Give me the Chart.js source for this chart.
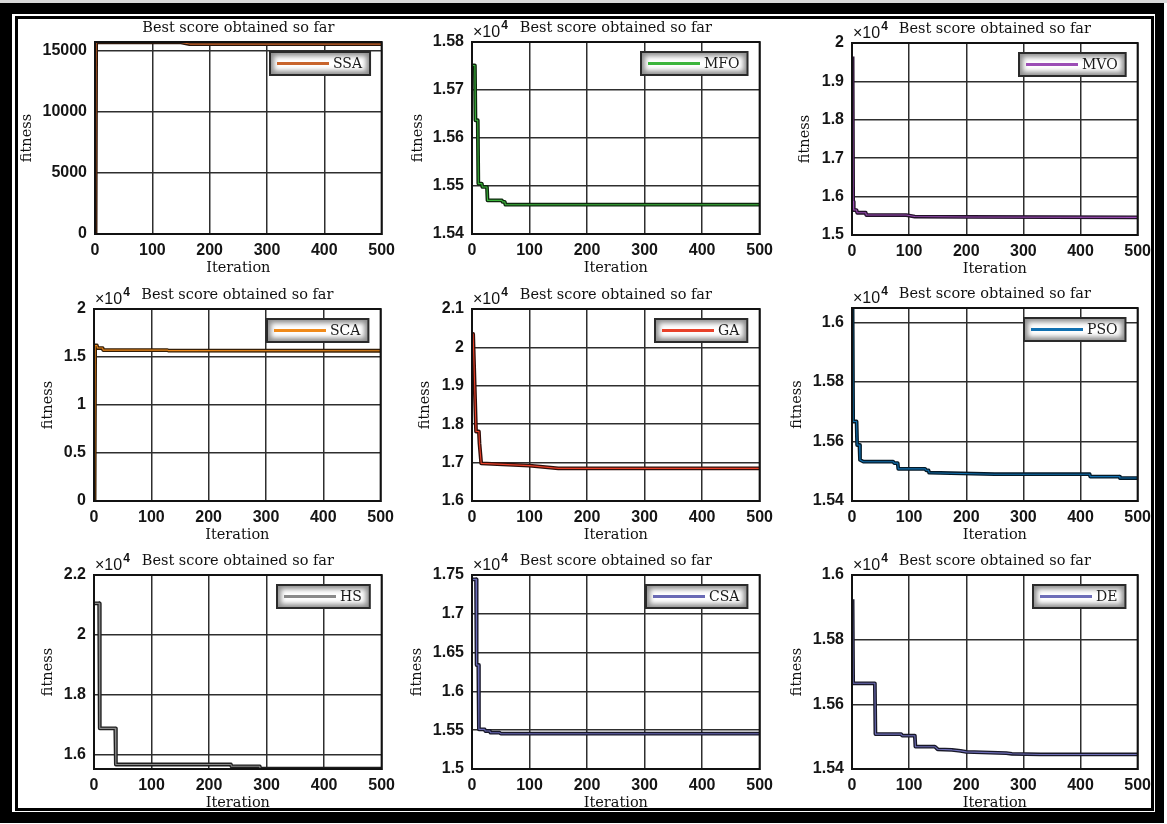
<!DOCTYPE html>
<html>
<head>
<meta charset="utf-8">
<title>Convergence curves</title>
<script src="https://cdn.jsdelivr.net/npm/chart.js@4.4.1/dist/chart.umd.min.js"></script>
<style>
  html, body { margin: 0; padding: 0; background: #fff; }
  body { width: 1167px; height: 824px; position: relative; overflow: hidden; }
  canvas { position: absolute; }
  .top-strip { position: absolute; left: 0; top: 0; width: 1167px; height: 3px; background: #d8d8d8; }
  .frame-outer { position: absolute; left: 0; top: 3px; width: 1164px; height: 820px; box-sizing: border-box;
    border-style: solid; border-color: #000; border-width: 11px 9px 11px 12px; z-index: 5; }
  .frame-inner { position: absolute; left: 15px; top: 16px; width: 1139px; height: 795px; box-sizing: border-box;
    border: 3px solid #000; z-index: 5; }
</style>
</head>
<body>
<div class="top-strip"></div>
<div class="frame-outer"></div>
<div class="frame-inner"></div>
<script>
const SERIF = '"DejaVu Serif", "Liberation Serif", serif';
const SANS = '"Liberation Sans", Arial, sans-serif';

// iteration axis
const xTicks = [0, 100, 200, 300, 400, 500];

// SSA
const ssaIter = [1, 2, 150, 165, 500];
const ssaFit = [0, 15650, 15650, 15510, 15510];
const ssaTicks = [0, 5000, 10000, 15000];

// MFO
const mfoIter = [1, 5, 6, 10, 11, 17, 18, 26, 27, 52, 53, 57, 58, 500];
const mfoFit = [15751, 15751, 15637, 15637, 15505, 15505, 15498, 15498, 15470, 15470, 15467, 15467, 15461, 15461];
const mfoTicks = [15400, 15500, 15600, 15700, 15800];

// MVO
const mvoIter = [1, 2, 3, 8, 9, 24, 25, 95, 110, 200, 500];
const mvoFit = [19650, 15870, 15650, 15650, 15580, 15580, 15520, 15520, 15480, 15470, 15460];
const mvoTicks = [15000, 16000, 17000, 18000, 19000, 20000];

// SCA
const scaIter = [1, 2, 5, 6, 15, 16, 128, 130, 500];
const scaFit = [0, 16200, 16200, 15930, 15930, 15720, 15720, 15660, 15650];
const scaTicks = [0, 5000, 10000, 15000, 20000];

// GA
const gaIter = [1, 2, 7, 12, 13, 16, 100, 150, 500];
const gaFit = [20350, 20350, 17810, 17810, 17500, 16980, 16920, 16850, 16850];
const gaTicks = [16000, 17000, 18000, 19000, 20000, 21000];

// PSO
const psoIter = [1, 2, 8, 9, 13, 14, 20, 72, 74, 80, 81, 128, 130, 134, 135, 250, 416, 417, 468, 469, 500];
const psoFit = [16048, 15667, 15667, 15588, 15588, 15538, 15532, 15532, 15527, 15527, 15508, 15508, 15503, 15503, 15495, 15490, 15490, 15482, 15482, 15477, 15477];
const psoTicks = [15400, 15600, 15800, 16000];

// HS
const hsIter = [1, 9, 10, 37, 38, 238, 239, 288, 289, 500];
const hsFit = [21050, 21050, 16870, 16870, 15660, 15660, 15600, 15600, 15525, 15525];
const hsTicks = [16000, 18000, 20000, 22000];

// CSA
const csaIter = [1, 7, 8, 11, 12, 22, 23, 31, 32, 48, 50, 500];
const csaFit = [17444, 17444, 16340, 16340, 15511, 15511, 15490, 15490, 15468, 15468, 15455, 15455];
const csaTicks = [15000, 15500, 16000, 16500, 17000, 17500];

// DE
const deIter = [1, 2, 40, 41, 86, 88, 110, 111, 145, 150, 175, 190, 200, 270, 280, 330, 500];
const deFit = [15925, 15665, 15665, 15508, 15508, 15503, 15503, 15469, 15469, 15461, 15459, 15456, 15453, 15449, 15447, 15445, 15445];
const deTicks = [15400, 15600, 15800, 16000];

const panels = [
  { name: 'SSA', iter: ssaIter, fit: ssaFit, ticks: ssaTicks, min: 0, max: 15680, exp: false, color: '#c8642c' },
  { name: 'MFO', iter: mfoIter, fit: mfoFit, ticks: mfoTicks, min: 15400, max: 15800, exp: true, color: '#3cb53c' },
  { name: 'MVO', iter: mvoIter, fit: mvoFit, ticks: mvoTicks, min: 15000, max: 20000, exp: true, color: '#9b4db5' },
  { name: 'SCA', iter: scaIter, fit: scaFit, ticks: scaTicks, min: 0, max: 20000, exp: true, color: '#f08a1a' },
  { name: 'GA', iter: gaIter, fit: gaFit, ticks: gaTicks, min: 16000, max: 21000, exp: true, color: '#e8412a' },
  { name: 'PSO', iter: psoIter, fit: psoFit, ticks: psoTicks, min: 15400, max: 16048, exp: true, color: '#1170b0' },
  { name: 'HS', iter: hsIter, fit: hsFit, ticks: hsTicks, min: 15510, max: 22000, exp: true, color: '#8a8a8a' },
  { name: 'CSA', iter: csaIter, fit: csaFit, ticks: csaTicks, min: 15000, max: 17500, exp: true, color: '#6a6ab5' },
  { name: 'DE', iter: deIter, fit: deFit, ticks: deTicks, min: 15400, max: 16000, exp: true, color: '#6e6eb8' },
];

// plot area [left, top, right, bottom] and distance of the "fitness" label from the axis
const plotBoxes = [
  [95, 42, 382, 234, 68], [472, 42, 760, 234, 54], [852, 43, 1138, 235, 47],
  [94, 309, 381, 501, 46], [472, 309, 760, 501, 47], [852, 308, 1138, 501, 55],
  [94, 575, 382, 769, 46], [472, 575, 760, 769, 55], [852, 575, 1138, 769, 55],
];

const TOP_H = 27, BOTTOM_H = 43, PAD_RIGHT = 20;

const fmtTick = (v, exp) => exp ? String(parseFloat((v / 1e4).toFixed(4))) : String(v);

// dark shade of a series colour, used for the wide stroke under the curve
function shade(hex, f) {
  const n = parseInt(hex.slice(1), 16);
  const c = [(n >> 16) & 255, (n >> 8) & 255, n & 255].map(v => Math.round(v * f));
  return `rgb(${c[0]},${c[1]},${c[2]})`;
}

// box around the axes, boxed legend and the x10^4 multiplier
const panelDecor = {
  id: 'panelDecor',
  afterDatasetsDraw(chart, args, opts) {
    const { ctx, chartArea: a } = chart;
    ctx.save();
    ctx.strokeStyle = '#111';
    ctx.lineWidth = 2;
    ctx.strokeRect(a.left, a.top, a.right - a.left, a.bottom - a.top);

    const ds = chart.data.datasets[0];
    ctx.font = `14px ${SERIF}`;
    const tw = ctx.measureText(ds.label).width;
    const h = 23, w = 64 + tw + 7;
    const x = Math.round(a.right - 12 - w), y = Math.round(a.top + 10);
    ctx.fillStyle = '#8e8e8e';
    ctx.fillRect(x, y, w, h);
    ctx.filter = 'blur(2.5px)';
    ctx.fillStyle = '#fff';
    ctx.fillRect(x + 4, y + 4, w - 8, h - 8);
    ctx.filter = 'none';
    ctx.strokeStyle = '#2a2a2a';
    ctx.lineWidth = 2;
    ctx.strokeRect(x, y, w, h);
    ctx.strokeStyle = ds.borderColor;
    ctx.lineWidth = 3;
    ctx.beginPath();
    ctx.moveTo(x + 7, y + h / 2);
    ctx.lineTo(x + 59, y + h / 2);
    ctx.stroke();
    ctx.fillStyle = '#1a1a1a';
    ctx.textBaseline = 'middle';
    ctx.textAlign = 'left';
    ctx.fillText(ds.label, x + 63, y + h / 2 + 1);

    if (opts.exp) {
      ctx.textBaseline = 'alphabetic';
      ctx.font = `16px ${SANS}`;
      ctx.fillStyle = '#111';
      ctx.fillText('\u00d710', a.left + 1, a.top - 5);
      const bw = ctx.measureText('\u00d710').width;
      ctx.font = `bold 12px ${SANS}`;
      ctx.fillText('4', a.left + 2 + bw, a.top - 13);
    }
    ctx.restore();
  }
};

function createConvergenceChart(canvas, p, box) {
  const [l, t, r, b, gap] = box;
  const axisW = gap + 9;
  canvas.width = (r - l) + axisW + PAD_RIGHT;
  canvas.height = TOP_H + (b - t) + BOTTOM_H;
  canvas.style.left = (l - axisW) + 'px';
  canvas.style.top = (t - TOP_H) + 'px';
  const ctx = canvas.getContext('2d');
  const points = p.iter.map((x, i) => ({ x, y: p.fit[i] }));
  const under = p.iter.map((x, i) => ({ x, y: p.fit[i] }));
  const grid = { color: '#2e2e2e', lineWidth: 1.5, drawTicks: false };
  const tickFont = { family: SANS, size: 16, weight: 'bold' };
  const labelFont = { family: SERIF, size: 14.5, lineHeight: '18px' };
  const lineStyle = { pointRadius: 0, tension: 0, borderJoinStyle: 'round', borderCapStyle: 'butt' };
  return new Chart(ctx, {
    type: 'line',
    data: {
      datasets: [
        { label: p.name, data: points, borderColor: p.color, borderWidth: 1.1, ...lineStyle },
        { label: '', data: under, borderColor: shade(p.color, 0.22), borderWidth: 3.8, ...lineStyle },
      ]
    },
    options: {
      responsive: false,
      animation: false,
      devicePixelRatio: 1,
      layout: { padding: { top: 0, right: PAD_RIGHT, bottom: 0, left: 0 } },
      plugins: {
        legend: { display: false },
        tooltip: { enabled: false },
        title: {
          display: true, text: 'Best score obtained so far', fullSize: false, color: '#111',
          font: { family: SERIF, size: 14.5, weight: 'normal', lineHeight: '18px' },
          padding: { top: 4, bottom: 5 },
        },
        panelDecor: { exp: p.exp },
      },
      scales: {
        x: {
          type: 'linear', min: 0, max: 500,
          afterFit: s => { s.height = BOTTOM_H; },
          afterBuildTicks: s => { s.ticks = xTicks.map(v => ({ value: v })); },
          grid,
          border: { color: '#111', width: 2 },
          ticks: { color: '#151515', font: tickFont, padding: 7, maxRotation: 0, autoSkip: false },
          title: { display: true, text: 'Iteration', color: '#111', font: labelFont, padding: 0 },
        },
        y: {
          type: 'linear', min: p.min, max: p.max,
          afterFit: s => { s.width = axisW; },
          afterBuildTicks: s => { s.ticks = p.ticks.map(v => ({ value: v })); },
          grid,
          border: { color: '#111', width: 2 },
          ticks: { color: '#151515', font: tickFont, padding: 8, autoSkip: false, callback: v => fmtTick(v, p.exp) },
          title: { display: true, text: 'fitness', color: '#111', font: labelFont, padding: 0 },
        }
      }
    },
    plugins: [panelDecor]
  });
}

panels.forEach((p, i) => {
  const canvas = document.createElement('canvas');
  document.body.appendChild(canvas);
  createConvergenceChart(canvas, p, plotBoxes[i]);
});
</script>
</body>
</html>
